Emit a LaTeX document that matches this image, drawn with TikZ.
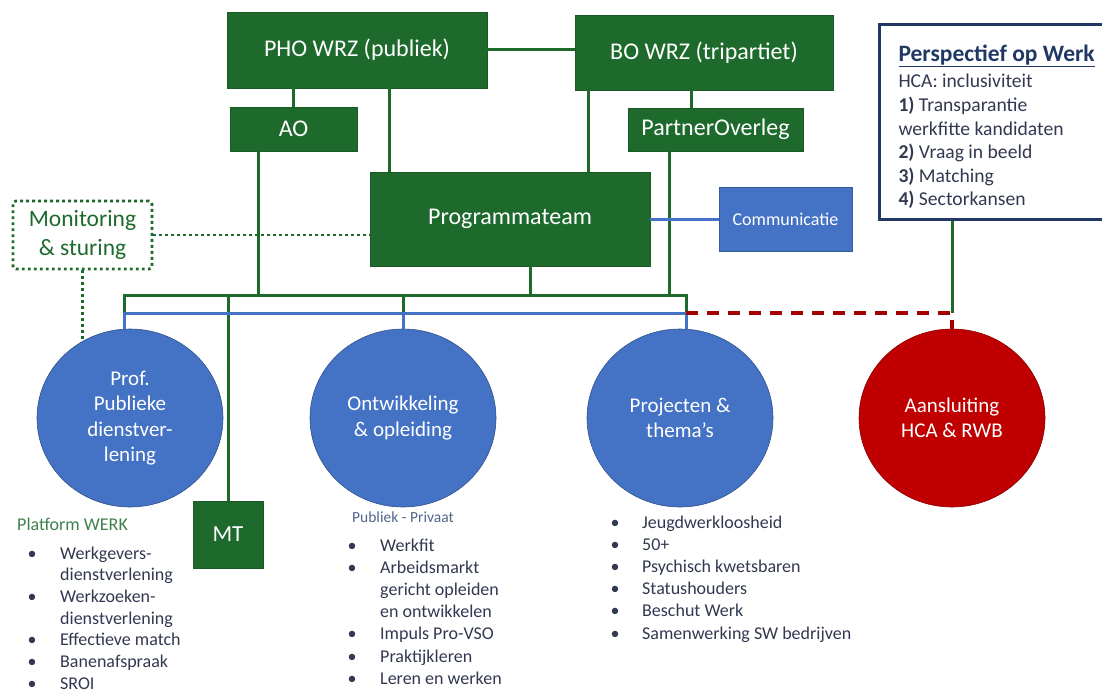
\documentclass[tikz,border=0pt]{standalone}
\usepackage{fontspec}
\setmainfont{Carlito}
\usetikzlibrary{shapes.geometric}

\definecolor{wgreen}{RGB}{29,106,44}
\definecolor{wblue}{RGB}{68,114,196}
\definecolor{wred}{RGB}{192,0,0}
\definecolor{wnavy}{RGB}{31,56,100}
\definecolor{wtext}{RGB}{50,56,80}

\begin{document}
\begin{tikzpicture}[x=1pt,y=-1pt,
  gbox/.style={draw=wgreen!85!black,line width=0.6pt,fill=wgreen,text=white,inner sep=0pt,font=\fontsize{24}{28}\selectfont},
  bbox/.style={draw=wblue!80!black,line width=0.6pt,fill=wblue,text=white,inner sep=0pt,font=\fontsize{18}{22}\selectfont},
  pool/.style={ellipse,draw=wblue!70!black,line width=0.6pt,fill=wblue,text=white,inner sep=0pt,minimum width=186,minimum height=178,align=center,font=\fontsize{21}{25.5}\selectfont},
  gline/.style={wgreen,line width=3pt},
  bline/.style={wblue,line width=3pt},
  dotline/.style={wgreen,line width=2.8pt,dash pattern=on 2.8pt off 3.2pt},
  reddash/.style={wred!85!black,line width=3.2pt,dash pattern=on 12pt off 9pt},
  listtxt/.style={text=wtext,inner sep=0pt,anchor=base west,font=\fontsize{18}{21.7}\selectfont}]
  \useasboundingbox (0,0) rectangle (1102,693);

  % boards
  \node[gbox,minimum width=260,minimum height=76] (pho) at (357,50) {PHO WRZ (publiek)};
  \node[gbox,minimum width=258,minimum height=75] (bo) at (704,52.5) {BO WRZ (tripartiet)};
  \node[gbox,minimum width=127,minimum height=44] (ao) at (293.5,129) {AO};
  \node[gbox,minimum width=175,minimum height=43] (po) at (715.5,129.5) {PartnerOverleg};
  \node[gbox,minimum width=280,minimum height=94] (prog) at (510,219) {Programmateam};
  \node[bbox,minimum width=133,minimum height=64] (comm) at (785.5,219) {Communicatie};
  \node[draw=wgreen,dotline,rounded corners=3pt,minimum width=139,minimum height=68,inner sep=0pt,
        align=center,text=wgreen,font=\fontsize{23.5}{29}\selectfont] (mon) at (82.5,235) {Monitoring\\\& sturing};
  \node[gbox,minimum width=70,minimum height=67,font=\fontsize{23}{27}\selectfont] (mt) at (228,534.5) {MT};

  % Perspectief op Werk
  \node[draw=wnavy,line width=3pt,anchor=north west,minimum height=195,inner xsep=19pt,inner ysep=0pt,
        align=left,text=wtext,font=\fontsize{19.6}{23.6}\selectfont] (persp) at (878,23)
    {\rule{0pt}{26pt}{\fontsize{23.5}{26}\selectfont\bfseries\color{wnavy}\underline{Perspectief op Werk}}\\[3pt]
     HCA: inclusiviteit\\
     \textbf{1)} Transparantie\\
     werkfitte kandidaten\\
     \textbf{2)} Vraag in beeld\\
     \textbf{3)} Matching\\
     \textbf{4)} Sectorkansen};

  % pools
  \node[pool] (c1) at (130,418) {Prof.\\Publieke\\dienstver-\\lening};
  \node[pool] (c2) at (403,418) {Ontwikkeling\\\& opleiding};
  \node[pool] (c3) at (680,418) {Projecten \&\\thema’s};
  \node[pool,fill=wred,draw=wred!70!black] (c4) at (952,418) {Aansluiting\\HCA \& RWB};

  \coordinate (busL) at (124,295);
  \coordinate (busR) at (686,295);
  \coordinate (blL) at (124,313);
  \coordinate (blR) at (686,313);

  % green structure
  \draw[gline] (pho.east) -- (pho.east -| bo.west);
  \draw[gline] (ao.north) -- (ao.north |- pho.south);
  \draw[gline] (pho.south -| 389,0) -- (prog.north -| 389,0);
  \draw[gline] (bo.south -| 588,0) -- (prog.north -| 588,0);
  \draw[gline] (bo.south -| 691,0) -- (po.north -| 691,0);
  \draw[gline] (ao.south -| 258,0) -- (busL -| 258,0);
  \draw[gline] (prog.south -| 530,0) -- (busL -| 530,0);
  \draw[gline] (po.south -| 669,0) -- (busL -| 669,0);
  \draw[gline] (blL) -- (busL) -- (busR) -- (blR);
  \draw[gline] (busL -| c2.north) -- (blL -| c2.north);
  \draw[gline] (mt.north) -- (mt.north |- busL);
  \draw[gline] (persp.south -| c4.north) -- (blR -| c4.north);

  % blue line
  \draw[bline] (prog.east) -- (comm.west);
  \draw[bline] (blL) -- (blR);
  \draw[bline] (blL) -- (blL |- c1.north);
  \draw[bline] (blL -| c2.north) -- (c2.north);
  \draw[bline] (blR) -- (blR |- c3.north);
  \draw[reddash] (blR) -- (blR -| c4.north) -- (c4.north);

  % monitoring
  \draw[dotline] (mon.east) -- (mon.east -| prog.west);
  \draw[dotline] (mon.south) -- (mon.south |- c1.120);

  % lists
  \node[listtxt,text=wgreen!85!white] (pwtitle) at (17,530) {Platform WERK};
  \node[listtxt] (pwlist) at (27.5,559) {\begin{tabular}[t]{@{}p{32.5pt}@{}l@{}}
    \textbullet & Werkgevers-\\
    & dienstverlening\\
    \textbullet & Werkzoeken-\\
    & dienstverlening\\
    \textbullet & Effectieve match\\
    \textbullet & Banenafspraak\\
    \textbullet & SROI
  \end{tabular}};
  \node[listtxt,text={rgb,255:red,85;green,100;blue,140},font=\fontsize{15.5}{19}\selectfont] (pptitle) at (352,522) {Publiek - Privaat};
  \node[listtxt,font=\fontsize{18}{22.2}\selectfont] (pplist) at (347.5,551) {\begin{tabular}[t]{@{}p{32.5pt}@{}l@{}}
    \textbullet & Werkfit\\
    \textbullet & Arbeidsmarkt\\
    & gericht opleiden\\
    & en ontwikkelen\\
    \textbullet & Impuls Pro-VSO\\
    \textbullet & Praktijkleren\\
    \textbullet & Leren en werken
  \end{tabular}};
  \node[listtxt,font=\fontsize{18}{22.2}\selectfont] (pjlist) at (610.5,528) {\begin{tabular}[t]{@{}p{31.5pt}@{}l@{}}
    \textbullet & Jeugdwerkloosheid\\
    \textbullet & 50+\\
    \textbullet & Psychisch kwetsbaren\\
    \textbullet & Statushouders\\
    \textbullet & Beschut Werk\\
    \textbullet & Samenwerking SW bedrijven
  \end{tabular}};
\end{tikzpicture}
\end{document}
